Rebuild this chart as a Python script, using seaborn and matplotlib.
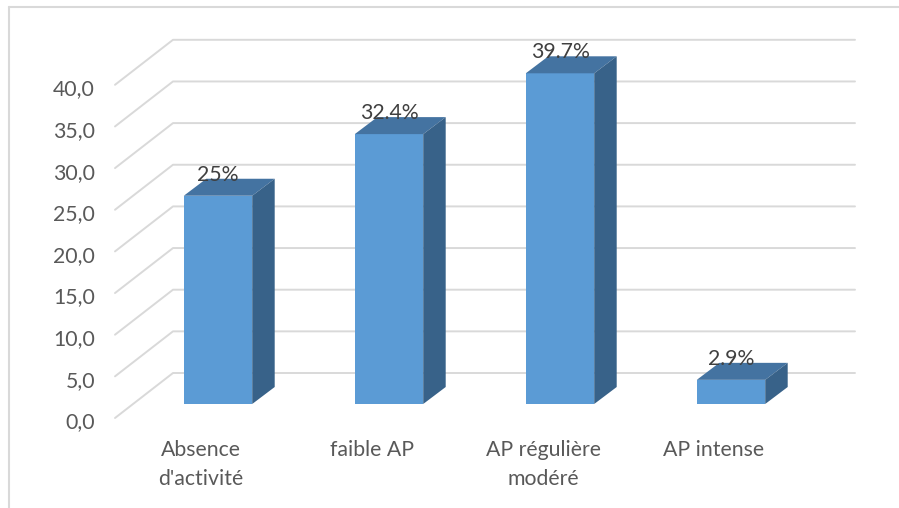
import matplotlib
matplotlib.use("Agg")
import matplotlib.pyplot as plt
from matplotlib.patches import Polygon
from matplotlib.lines import Line2D
from matplotlib.transforms import ScaledTranslation
import seaborn as sns
import pandas as pd

categories = ["Absence\nd'activité", "faible AP", "AP régulière\nmodéré", "AP intense"]
values = [25.0, 32.4, 39.7, 2.9]
y_ticks = [0, 5, 10, 15, 20, 25, 30, 35, 40]

FRONT = "#5B9BD5"
TOP = "#4473A1"
SIDE = "#386289"
GRID = "#D9D9D9"
TXT = "#595959"
LBL = "#404040"
FS = 15.3

sns.set_theme(style="white")
plt.rcParams["font.family"] = ["Lato", "DejaVu Sans"]

W, H, DPI = 899, 508, 100
fig = plt.figure(figsize=(W / DPI, H / DPI), dpi=DPI)
fig.patch.set_facecolor("white")

# plot area: bar front plane, 171 px per category, 8.33 px per unit
px_cat = 171.0
px_val = 8.33
x0_px, y0_px = 218.0 - 0.5 * px_cat, 404.0
ymax = 45.0
ax = fig.add_axes([x0_px / W, (H - y0_px) / H, 4 * px_cat / W, ymax * px_val / H])

df = pd.DataFrame({"cat": categories, "val": values})
sns.barplot(data=df, x="cat", y="val", ax=ax, color=FRONT, saturation=1,
            width=0.40, linewidth=0, zorder=3)
ax.set_xlim(-0.5, 3.5)
ax.set_ylim(0, ymax)
for s in ax.spines.values():
    s.set_visible(False)
ax.set_xlabel("")
ax.set_ylabel("")

def cx(px):
    return px / px_cat

def cy(px):
    return px / px_val

# depth offsets (data units): bar back face, back wall, floor front edge
bdx, bdy = cx(22.5), cy(17)
wall_left = cx(173 - 218)
floor_left = cx(115 - 218)
wall_dy = cy(31)
floor_dy = cy(-14)
x_right = cx(855 - 218)

# back wall gridlines with their diagonals on the left wall
for t in y_ticks:
    ax.add_line(Line2D([floor_left, wall_left, x_right],
                       [t + floor_dy, t + wall_dy, t + wall_dy],
                       color=GRID, lw=1.4, zorder=1, clip_on=False))

# 3D side and top faces of each bar, with value labels
for patch, v in zip(ax.patches, values):
    x0 = patch.get_x()
    x1 = x0 + patch.get_width()
    top = Polygon([(x0, v), (x1, v), (x1 + bdx, v + bdy), (x0 + bdx, v + bdy)],
                  closed=True, facecolor=TOP, edgecolor="none", zorder=4, clip_on=False)
    side = Polygon([(x1, 0), (x1 + bdx, bdy), (x1 + bdx, v + bdy), (x1, v)],
                   closed=True, facecolor=SIDE, edgecolor="none", zorder=4, clip_on=False)
    ax.add_patch(top)
    ax.add_patch(side)
    ax.text(x0 + patch.get_width() / 2, v + bdy + cy(4), f"{v:g}%", ha="center", va="center",
            fontsize=FS, color=LBL, zorder=6, clip_on=False)

# value axis labels sit on the floor front edge
ax.set_yticks(y_ticks)
ax.set_yticklabels([f"{t:.1f}".replace(".", ",") for t in y_ticks])
ax.tick_params(axis="y", length=0, pad=(x0_px - 95) * 72 / DPI, labelsize=FS, labelcolor=TXT)
for lab in ax.get_yticklabels():
    lab.set_transform(lab.get_transform() + ScaledTranslation(0, -16.5 / DPI, fig.dpi_scale_trans))

ax.tick_params(axis="x", length=0, pad=36 * 72 / DPI, labelsize=FS, labelcolor=TXT)
for lab in ax.get_xticklabels():
    lab.set_linespacing(1.55)
    lab.set_transform(lab.get_transform() + ScaledTranslation(-17 / DPI, 0, fig.dpi_scale_trans))

# chart frame
fig.add_artist(Line2D([9 / W, 9 / W], [0, 1 - 7 / H], color=GRID, lw=1.5, transform=fig.transFigure))
fig.add_artist(Line2D([9 / W, 1], [1 - 7 / H, 1 - 7 / H], color=GRID, lw=1.5, transform=fig.transFigure))

fig.savefig("out.png", dpi=DPI)
